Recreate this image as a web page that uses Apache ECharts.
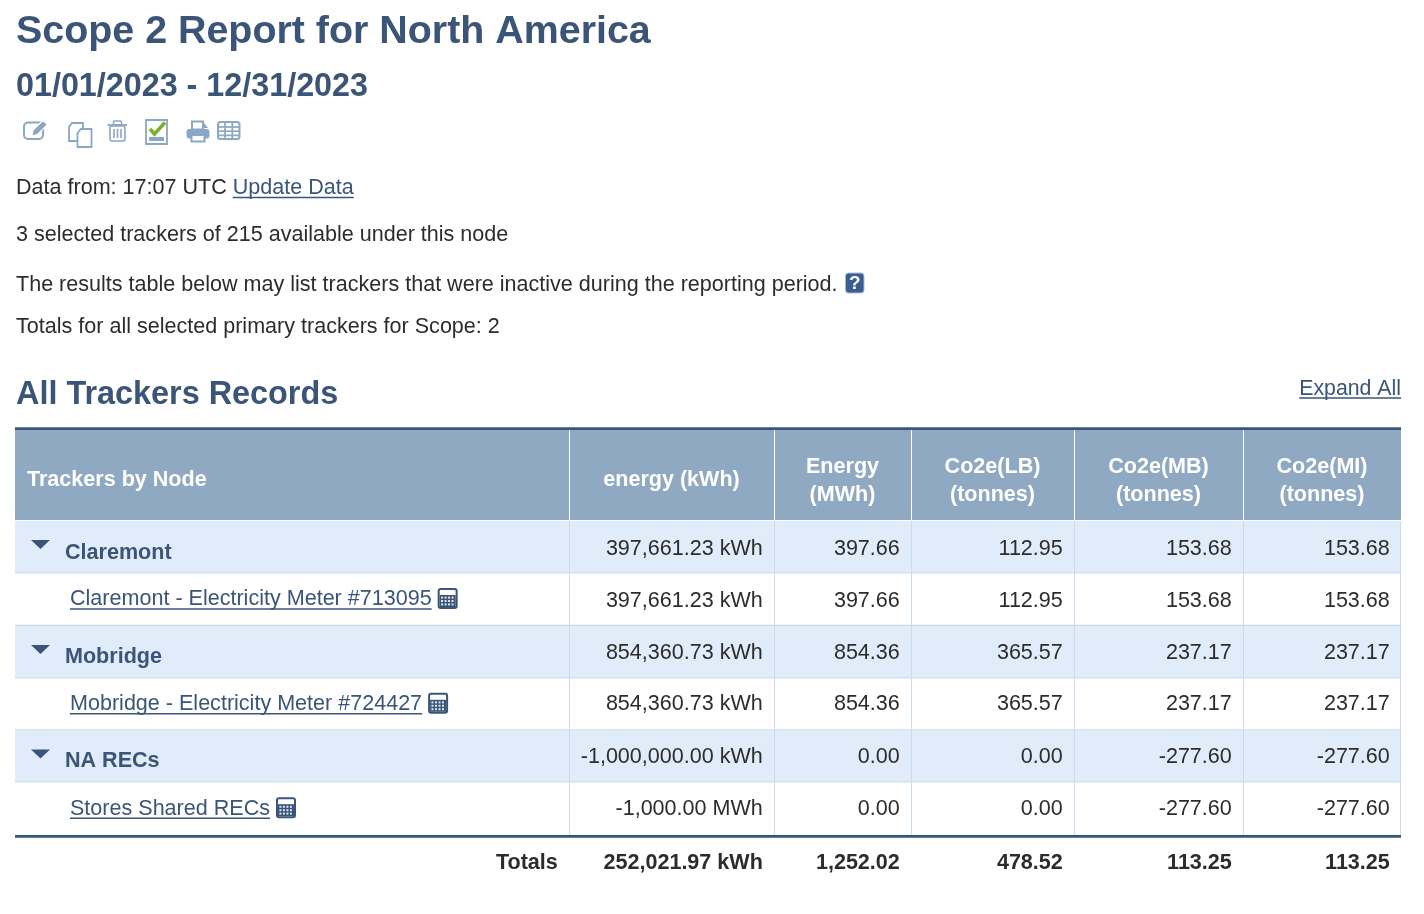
<!DOCTYPE html>
<html>
<head>
<meta charset="utf-8">
<title>Scope 2 Report</title>
<script src="https://cdn.jsdelivr.net/npm/echarts@6/dist/echarts.min.js"></script>
<style>
html, body { margin: 0; padding: 0; background: #fff; }
#main { width: 1424px; height: 914px; }
</style>
</head>
<body>
<div id="main"></div>
<script>
// table content
var columnHeaders = [['Trackers by Node'], ['energy (kWh)'], ['Energy', '(MWh)'], ['Co2e(LB)', '(tonnes)'], ['Co2e(MB)', '(tonnes)'], ['Co2e(MI)', '(tonnes)']];
var rowNames = ['Claremont', 'Claremont - Electricity Meter #713095', 'Mobridge', 'Mobridge - Electricity Meter #724427', 'NA RECs', 'Stores Shared RECs'];
var rowIsNode = [true, false, true, false, true, false];
var energyAmounts = [397661.23, 397661.23, 854360.73, 854360.73, -1000000.00, -1000.00];
var energyUnits = ['kWh', 'kWh', 'kWh', 'kWh', 'kWh', 'MWh'];
var energyMwh = [397.66, 397.66, 854.36, 854.36, 0.00, 0.00];
var co2eLb = [112.95, 112.95, 365.57, 365.57, 0.00, 0.00];
var co2eMb = [153.68, 153.68, 237.17, 237.17, -277.60, -277.60];
var co2eMi = [153.68, 153.68, 237.17, 237.17, -277.60, -277.60];
var totalsLabel = 'Totals';
var totalEnergy = 252021.97;
var totalEnergyUnit = 'kWh';
var totalMwh = 1252.02;
var totalLb = 478.52;
var totalMb = 113.25;
var totalMi = 113.25;

// layout of the table, in axis units
var columnEdges = [15, 569, 774, 911, 1074, 1243, 1401];
var rowEdges = [430, 521, 573.5, 626, 678.5, 730.5, 782.5, 836, 888];
var valueY = [549.3, 601, 652.7, 704.3, 756.7, 808.7];
var nameY = [553, 599.5, 657, 704.3, 761, 808.7];

var FONT = '"Liberation Sans", Arial, sans-serif';
var DARK = '#3a5577';
var TEXT = '#2c2c2c';
var HEAD_BG = '#8fa9c3';
var NODE_BG = '#e0ecf9';
var RULE = '#c9dcec';
var ICON = '#8aa7c3';
var BODY = 21.55;

function money(v) {
    return v.toLocaleString('en-US', { minimumFractionDigits: 2, maximumFractionDigits: 2 });
}

function cellText(r, c) {
    if (r === 6) {
        return [totalsLabel, money(totalEnergy) + ' ' + totalEnergyUnit, money(totalMwh), money(totalLb), money(totalMb), money(totalMi)][c];
    }
    return [rowNames[r], money(energyAmounts[r]) + ' ' + energyUnits[r], money(energyMwh[r]), money(co2eLb[r]), money(co2eMb[r]), money(co2eMi[r])][c];
}

var measureCtx = document.createElement('canvas').getContext('2d');
function textWidth(str, size) {
    measureCtx.font = size + 'px "Liberation Sans"';
    return measureCtx.measureText(str).width;
}

function label(x, y, str, size, weight, fill, align) {
    return {
        type: 'text',
        style: { text: str, x: x, y: y, fill: fill, font: weight + ' ' + size + 'px ' + FONT, align: align || 'left', verticalAlign: 'middle' }
    };
}

function line(x1, y1, x2, y2, color, width) {
    return { type: 'line', shape: { x1: x1, y1: y1, x2: x2, y2: y2 }, style: { stroke: color, lineWidth: width || 1 } };
}

function box(x, y, w, h, fill, stroke, lineWidth, r) {
    return { type: 'rect', shape: { x: x, y: y, width: w, height: h, r: r || 0 }, style: { fill: fill || 'none', stroke: stroke || 'none', lineWidth: lineWidth || 0 } };
}

function poly(points, fill, stroke, lineWidth) {
    return { type: 'polygon', shape: { points: points }, style: { fill: fill || 'none', stroke: stroke || 'none', lineWidth: lineWidth || 0 } };
}

function calcIcon(x, y) {
    var parts = [box(x + 1, y + 1, 18, 19, '#fff', DARK, 2, 2), box(x + 2, y + 7, 16, 12, DARK)];
    for (var i = 0; i < 4; i++) {
        for (var j = 0; j < 3; j++) {
            parts.push(box(x + 3.4 + i * 3.5, y + 8.6 + j * 3.4, 2, 2, '#dfe7f0'));
        }
    }
    return parts;
}

function renderCell(params, api) {
    var c = api.value(0), r = api.value(1);
    var tl = api.coord([columnEdges[c], rowEdges[r + 1]]);
    var br = api.coord([columnEdges[c + 1], rowEdges[r + 2]]);
    var w = br[0] - tl[0], h = br[1] - tl[1];
    var kids = [];
    var right = br[0] - 11.2;

    if (r === 6) {
        kids.push(label(right, 862.7, cellText(r, c), BODY, 'bold', TEXT, 'right'));
        return { type: 'group', children: kids };
    }

    kids.push(box(tl[0], tl[1], w, h, rowIsNode[r] ? NODE_BG : '#fff'));
    kids.push(line(tl[0], br[1] - 0.5, br[0], br[1] - 0.5, RULE, 1.4));

    if (c > 0) {
        kids.push(label(right, valueY[r], cellText(r, c), BODY, 'normal', TEXT, 'right'));
    } else if (rowIsNode[r]) {
        kids.push(poly([[tl[0] + 16, tl[1] + 19], [tl[0] + 35, tl[1] + 19], [tl[0] + 25.5, tl[1] + 28]], DARK));
        kids.push(label(tl[0] + 50, nameY[r], cellText(r, c), BODY, 'bold', DARK));
    } else {
        var tw = textWidth(cellText(r, c), BODY);
        kids.push(label(tl[0] + 55, nameY[r], cellText(r, c), BODY, 'normal', DARK));
        kids.push(line(tl[0] + 55, nameY[r] + 9.5, tl[0] + 55 + tw, nameY[r] + 9.5, DARK, 1.6));
        kids = kids.concat(calcIcon(tl[0] + 55 + tw + 6, nameY[r] - 11.5));
    }
    return { type: 'group', children: kids };
}

function renderHeader(params, api) {
    var c = api.value(0);
    var tl = api.coord([columnEdges[c], rowEdges[0]]);
    var br = api.coord([columnEdges[c + 1], rowEdges[1]]);
    var kids = [box(tl[0], tl[1], br[0] - tl[0], br[1] - tl[1] - 1, HEAD_BG)];
    var lines = columnHeaders[c];
    var cx = (tl[0] + br[0]) / 2;
    if (c === 0) {
        kids.push(label(tl[0] + 12, 480.5, lines[0], BODY, 'bold', '#fff'));
    } else if (lines.length === 1) {
        kids.push(label(cx, 480.5, lines[0], BODY, 'bold', '#fff', 'center'));
    } else {
        kids.push(label(cx, 466.7, lines[0], BODY, 'bold', '#fff', 'center'));
        kids.push(label(cx, 495.5, lines[1], BODY, 'bold', '#fff', 'center'));
    }
    return { type: 'group', children: kids };
}

// column separators sit on top of the cell fills
function renderSeparator(params, api) {
    var i = api.value(0);
    var top = api.coord([columnEdges[i], rowEdges[0]]);
    var mid = api.coord([columnEdges[i], rowEdges[1]]);
    var end = api.coord([columnEdges[i], rowEdges[7]]);
    var x = top[0] + 0.5;
    if (i === 6) {
        x = top[0] - 0.5;
        return { type: 'group', children: [line(x, mid[1], x, end[1], RULE, 1)] };
    }
    return { type: 'group', children: [line(x, top[1], x, mid[1] - 1, '#fff', 1), line(x, mid[1], x, end[1], RULE, 1)] };
}

var cells = [];
for (var r = 0; r < 7; r++) {
    for (var c = 0; c < 6; c++) {
        cells.push([c, r]);
    }
}
var headerCells = columnHeaders.map(function (h, i) { return [i, 0]; });
var separators = [[1], [2], [3], [4], [5], [6]];

// page furniture around the table
var toolbar = [
    // edit
    box(24, 122.5, 19, 16.5, 'none', ICON, 2, 4),
    poly([[33, 130], [43, 120.5], [47.5, 124.5], [37.5, 134.5], [32, 136]], ICON, '#fff', 1.2),
    // copy
    poly([[72, 123], [83, 123], [83, 141], [69, 141], [69, 127]], '#fff', ICON, 1.8),
    poly([[81, 129], [91.5, 129], [91.5, 147], [77.5, 147], [77.5, 133]], '#fff', ICON, 1.8),
    // trash
    box(110, 126, 15, 15, 'none', ICON, 1.6, 2),
    line(107.5, 125, 127, 125, ICON, 1.8),
    box(113.5, 121, 8, 4, 'none', ICON, 1.5, 1),
    line(114, 129, 114, 138, ICON, 1.6),
    line(117.5, 129, 117.5, 138, ICON, 1.6),
    line(121, 129, 121, 138, ICON, 1.6),
    // check sheet
    box(146, 120, 21, 24, '#fff', ICON, 1.8),
    box(149, 137, 15, 4, ICON),
    { type: 'polyline', shape: { points: [[150, 129], [154.5, 134], [165, 122.5]] }, style: { stroke: '#7fb02c', lineWidth: 3.6, fill: 'none' } },
    // printer
    box(192, 121.5, 11, 8, 'none', ICON, 2),
    poly([[203, 121.5], [208, 128], [203, 128]], ICON),
    box(186.5, 129, 23, 9.5, ICON, null, 0, 3),
    box(191.5, 135, 13, 6.5, '#fff', ICON, 2),
    // table
    box(218, 122, 21.5, 17, '#fff', ICON, 2, 2.5),
    line(225, 122, 225, 139, ICON, 1.7),
    line(232.3, 122, 232.3, 139, ICON, 1.7),
    line(218, 127, 239.5, 127, ICON, 1.7),
    line(218, 131.2, 239.5, 131.2, ICON, 1.7),
    line(218, 135.4, 239.5, 135.4, ICON, 1.7)
];

var updateX = 16 + textWidth('Data from: 17:07 UTC ', BODY);
var updateW = textWidth('Update Data', BODY);
var expandW = textWidth('Expand All', 21.3);

var pageElements = [
    label(16, 32.5, 'Scope 2 Report for North America', 39.4, 'bold', DARK),
    label(16, 86.7, '01/01/2023 - 12/31/2023', 32.3, 'bold', DARK),
    label(16, 188, 'Data from: 17:07 UTC ', BODY, 'normal', TEXT),
    label(updateX, 188, 'Update Data', BODY, 'normal', DARK),
    line(updateX, 197.5, updateX + updateW, 197.5, DARK, 1.6),
    label(16, 235, '3 selected trackers of 215 available under this node', BODY, 'normal', TEXT),
    label(16, 285, 'The results table below may list trackers that were inactive during the reporting period.', BODY, 'normal', TEXT),
    box(845.5, 273, 18.5, 20, '#3a5d92', '#a9bdd5', 1, 3),
    label(854.8, 284, '?', 19, 'bold', '#fff', 'center'),
    label(16, 327, 'Totals for all selected primary trackers for Scope: 2', BODY, 'normal', TEXT),
    label(16, 395, 'All Trackers Records', 32.4, 'bold', DARK),
    label(1401, 389, 'Expand All', 21.3, 'normal', DARK, 'right'),
    line(1401 - expandW, 398, 1401, 398, DARK, 1.6),
    box(15, 427.3, 1386, 2.8, DARK),
    box(15, 835, 1386, 2.8, DARK)
].concat(toolbar).map(function (el) {
    el.z = 10;
    return el;
});

var myChart = echarts.init(document.getElementById('main'), null, { renderer: 'canvas' });
var option = {
    animation: false,
    backgroundColor: '#fff',
    grid: { left: 0, right: 0, top: 0, bottom: 0 },
    xAxis: { type: 'value', min: 0, max: 1424, show: false },
    yAxis: { type: 'value', min: 0, max: 914, inverse: true, show: false },
    graphic: { elements: pageElements },
    series: [
        { type: 'custom', silent: true, clip: false, z: 2, renderItem: renderHeader, data: headerCells },
        { type: 'custom', silent: true, clip: false, z: 2, renderItem: renderCell, data: cells },
        { type: 'custom', silent: true, clip: false, z: 3, renderItem: renderSeparator, data: separators }
    ]
};
myChart.setOption(option);
</script>
</body>
</html>
